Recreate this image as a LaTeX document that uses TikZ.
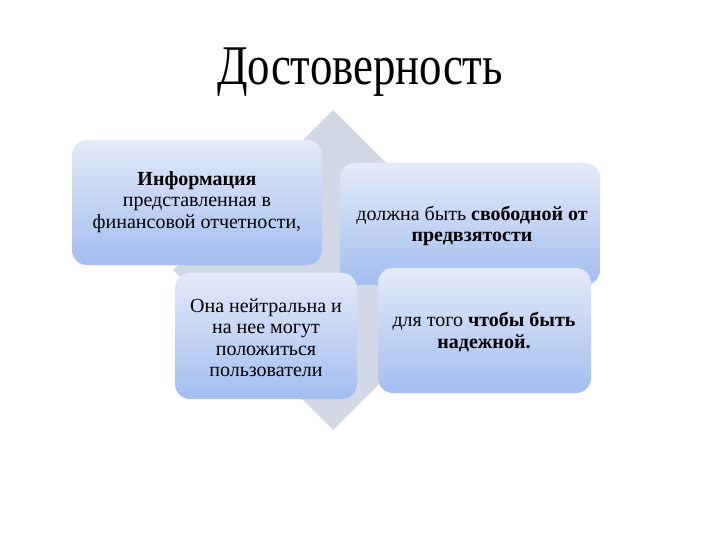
\documentclass[tikz,border=0pt]{standalone}
\usepackage{fontspec}
\setmainfont{Liberation Serif}[FakeStretch=0.8]
\newfontfamily\cardfont{Liberation Serif}
\definecolor{diam}{HTML}{D2D8E6}
\definecolor{boxtop}{HTML}{E4EAF8}
\definecolor{boxbot}{HTML}{A3BEF0}
\begin{document}
\begin{tikzpicture}[x=1pt,y=-1pt,
  card/.style={rounded corners=15pt, top color=boxtop, bottom color=boxbot, draw=none},
  cardtext/.style={align=center, font=\cardfont\fontsize{20}{21.5}\selectfont, text=black}]
\useasboundingbox[fill=white] (0,0) rectangle (720,540);
\node[font=\fontsize{56}{60}\selectfont] (title) at (360,72) {Достоверность};
% background diamond
\fill[diam] (333,110) coordinate (dt) -- (493,270) coordinate (dr) -- (333,430) coordinate (db) -- (173,270) coordinate (dl) -- cycle;
% cards
\shade[card] (72,140) rectangle (322,265);
\coordinate (c1) at (197,202);
\shade[card] (340,163) rectangle (600,285);
\coordinate (c2) at (472,226);
\shade[card] (175,273) rectangle (357,399);
\coordinate (c3) at (266,338);
\shade[card] (378,268) rectangle (591,393);
\coordinate (c4) at (484,332);
\node[cardtext] (t1) at (c1) {\textbf{Информация}\\представленная в\\финансовой отчетности,};
\node[cardtext] (t2) at (c2) {должна быть \textbf{свободной от}\\\textbf{предвзятости}};
\node[cardtext] (t3) at (c3) {Она нейтральна и\\на нее могут\\положиться\\пользователи};
\node[cardtext] (t4) at (c4) {для того \textbf{чтобы быть}\\\textbf{надежной.}};
\end{tikzpicture}
\end{document}
